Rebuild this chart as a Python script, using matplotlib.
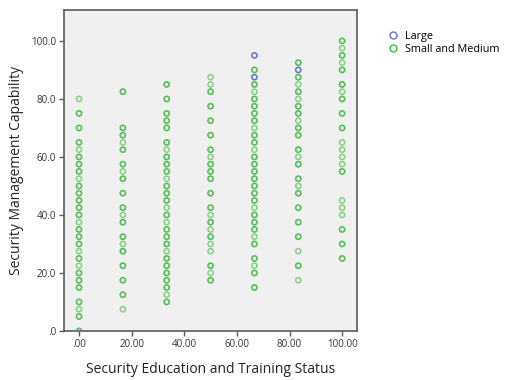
import numpy as np
import matplotlib
matplotlib.use("Agg")
import matplotlib.pyplot as plt
from matplotlib.lines import Line2D

plt.rcParams['font.family'] = ['Open Sans', 'DejaVu Sans']

# Training status levels (x) and capability scores (y) with number of cases per score
edu_levels = [0.0, 16.67, 33.33, 50.0, 66.67, 83.33, 100.0]

cap_00 = [80, 75, 70, 65, 62.5, 60, 57.5, 55, 52.5, 50, 47.5, 45, 42.5, 40, 37.5, 35,
          32.5, 30, 27.5, 25, 22.5, 20, 17.5, 15, 10, 7.5, 5, 0]
n_00 = [1, 2, 2, 2, 1, 2, 2, 2, 1, 2, 2, 2, 2, 2, 1, 2, 2, 2, 1, 2, 1, 2, 2, 2, 2, 1, 2, 2]

cap_17 = [82.5, 70, 67.5, 65, 62.5, 57.5, 55, 52.5, 47.5, 42.5, 40, 37.5, 32.5, 30,
          27.5, 22.5, 17.5, 12.5, 7.5]
n_17 = [2, 2, 2, 1, 2, 2, 1, 2, 2, 2, 1, 2, 2, 1, 2, 2, 2, 2, 1]

cap_33 = [85, 80, 75, 72.5, 70, 65, 62.5, 60, 57.5, 55, 52.5, 50, 47.5, 45, 42.5, 40,
          37.5, 35, 32.5, 30, 27.5, 25, 22.5, 20, 17.5, 15, 12.5, 10]
n_33 = [2, 2, 2, 2, 2, 2, 1, 2, 2, 2, 1, 2, 2, 2, 1, 2, 1, 2, 2, 2, 1, 2, 2, 2, 2, 2, 1, 2]

cap_50 = [87.5, 85, 82.5, 77.5, 72.5, 67.5, 62.5, 60, 57.5, 55, 52.5, 47.5, 42.5, 40,
          37.5, 35, 32.5, 30, 27.5, 22.5, 20, 17.5]
n_50 = [1, 1, 2, 2, 2, 2, 2, 1, 2, 2, 2, 2, 2, 1, 2, 1, 2, 1, 1, 2, 1, 2]

cap_67 = [90, 85, 82.5, 80, 77.5, 75, 72.5, 70, 67.5, 65, 62.5, 60, 57.5, 55, 52.5, 50,
          47.5, 45, 42.5, 40, 37.5, 35, 32.5, 30, 25, 22.5, 20, 15]
n_67 = [2, 2, 1, 2, 2, 2, 2, 1, 2, 2, 1, 2, 2, 2, 2, 2, 2, 2, 1, 2, 2, 2, 1, 2, 2, 1, 2, 2]

cap_83 = [92.5, 87.5, 85, 82.5, 80, 77.5, 75, 72.5, 70, 67.5, 62.5, 60, 57.5, 52.5, 50,
          47.5, 42.5, 37.5, 32.5, 27.5, 22.5, 17.5]
n_83 = [2, 2, 1, 2, 1, 2, 2, 1, 2, 2, 2, 1, 2, 2, 1, 2, 2, 2, 2, 1, 2, 1]

cap_100 = [100, 97.5, 95, 92.5, 90, 85, 82.5, 80, 75, 70, 65, 62.5, 60, 57.5, 55, 45,
           42.5, 40, 35, 30, 25]
n_100 = [2, 1, 2, 1, 2, 2, 1, 2, 2, 2, 1, 1, 1, 1, 2, 1, 1, 1, 2, 2, 2]

# Large firms
large_edu = [66.67, 66.67, 83.33]
large_cap = [95, 87.5, 90]

x_ticks = [0, 20, 40, 60, 80, 100]
x_tick_labels = [".00", "20.00", "40.00", "60.00", "80.00", "100.00"]
y_ticks = [0, 20, 40, 60, 80, 100]
y_tick_labels = [".0", "20.0", "40.0", "60.0", "80.0", "100.0"]

green = "#2ab42a"
blue = "#6272cc"

fig = plt.figure(figsize=(5.08, 3.80), dpi=100)
ax = fig.add_axes([0.126, 0.129, 0.577, 0.845])
ax.set_facecolor("#f0f0f0")

columns = [(cap_00, n_00), (cap_17, n_17), (cap_33, n_33), (cap_50, n_50),
           (cap_67, n_67), (cap_83, n_83), (cap_100, n_100)]
sm_x, sm_y = [], []
for xv, (vals, counts) in zip(edu_levels, columns):
    ys = np.repeat(vals, counts)
    sm_y.extend(ys)
    sm_x.extend([xv] * len(ys))

# overlapping cases stack into darker rings
ax.scatter(sm_x, sm_y, s=14, facecolors="none", edgecolors=green,
           linewidths=1.1, alpha=0.55, zorder=3)
ax.scatter(large_edu, large_cap, s=14, facecolors="none", edgecolors=blue,
           linewidths=1.1, zorder=4)

ax.set_xlim(-5.7, 105.7)
ax.set_ylim(0, 110.7)
ax.set_xticks(x_ticks)
ax.set_xticklabels(x_tick_labels)
ax.set_yticks(y_ticks)
ax.set_yticklabels(y_tick_labels)

for sp in ax.spines.values():
    sp.set_color("#5a5a5a")
    sp.set_linewidth(1.2)
ax.tick_params(axis="both", direction="out", length=3.5, width=1.0,
               color="#5a5a5a", labelsize=7, labelcolor="#333333", pad=2)

ax.set_xlabel("Security Education and Training Status", fontsize=10,
              color="#222222", labelpad=9)
ax.set_ylabel("Security Management Capability", fontsize=10,
              color="#222222", labelpad=5)

handles = [
    Line2D([], [], linestyle="none", marker="o", markersize=5, markerfacecolor="none",
           markeredgecolor=blue, markeredgewidth=1.0, label="Large"),
    Line2D([], [], linestyle="none", marker="o", markersize=5, markerfacecolor="none",
           markeredgecolor="#3cbf3c", markeredgewidth=1.0, label="Small and Medium"),
]
fig.legend(handles=handles, loc="upper left", bbox_to_anchor=(0.765, 0.918),
           frameon=False, fontsize=7.8, handlelength=0.8, handletextpad=0.7,
           labelspacing=0.15, borderaxespad=0, borderpad=0)

fig.savefig("out.png", dpi=100)
